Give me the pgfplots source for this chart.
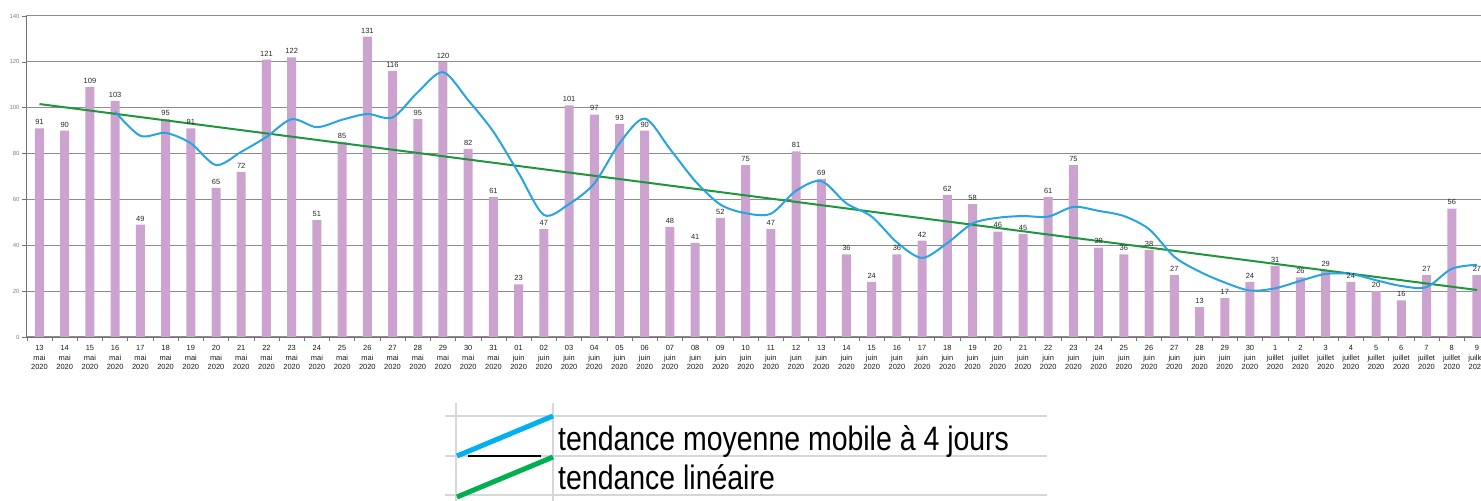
\documentclass[border=0pt]{standalone}
\usepackage{fontspec}
\setmainfont{Liberation Sans}
\usepackage{graphicx}
\usepackage{pgfplots}
\usepackage{pgfplotstable}
\pgfplotsset{compat=1.18}
\definecolor{barc}{RGB}{204,163,207}
\definecolor{mavg}{RGB}{40,165,225}
\definecolor{trend}{RGB}{30,150,60}
\definecolor{legblue}{RGB}{0,176,240}
\definecolor{leggreen}{RGB}{0,176,80}
\definecolor{gridc}{RGB}{140,140,140}
\definecolor{cellc}{RGB}{215,215,215}

\pgfplotstableread{
x y
0 91
1 90
2 109
3 103
4 49
5 95
6 91
7 65
8 72
9 121
10 122
11 51
12 85
13 131
14 116
15 95
16 120
17 82
18 61
19 23
20 47
21 101
22 97
23 93
24 90
25 48
26 41
27 52
28 75
29 47
30 81
31 69
32 36
33 24
34 36
35 42
36 62
37 58
38 46
39 45
40 61
41 75
42 39
43 36
44 38
45 27
46 13
47 17
48 24
49 31
50 26
51 29
52 24
53 20
54 16
55 27
56 56
57 27
}\bars

\pgfplotstableread{
x m
3 98.25
4 87.75
5 89
6 84.5
7 75
8 80.75
9 87.25
10 95
11 91.5
12 94.75
13 97.25
14 95.75
15 106.75
16 115.5
17 103.25
18 89.5
19 71.5
20 53.25
21 58
22 67
23 84.5
24 95.25
25 82
26 68
27 57.75
28 54
29 53.75
30 63.75
31 68
32 58.25
33 52.5
34 41.25
35 34.5
36 41
37 49.5
38 52
39 52.75
40 52.5
41 56.75
42 55
43 52.75
44 47
45 35
46 28.5
47 23.75
48 20.25
49 21.25
50 24.5
51 27.5
52 27.5
53 24.75
54 22.25
55 21.75
56 29.75
57 31.5
}\mavgtab

\begin{document}
\begin{tikzpicture}
\begin{axis}[
  at={(26bp,164bp)}, anchor=south west,
  scale only axis, width=1455bp, height=321bp,
  xmin=-0.535, xmax=57.16, ymin=0, ymax=140,
  axis x line=bottom, axis y line=left,
  axis line style={-, draw=black!55, line width=0.8bp},
  /pgf/number format/assume math mode=true,
  ytick={0,20,40,60,80,120,140},
  extra y ticks={100},
  extra y tick style={grid style={cellc, line width=1.2bp}},
  ymajorgrids,
  major grid style={gridc, line width=1bp},
  xtick={0,...,57},
  minor xtick={-0.5,0.5,...,57.5},
  minor ytick={0,20,...,140},
  major tick length=0bp,
  minor tick length=4bp,
  tick align=outside,
  tick style={draw=black!55, line width=0.6bp},
  xticklabels={
    {13\\mai\\2020},{14\\mai\\2020},{15\\mai\\2020},{16\\mai\\2020},{17\\mai\\2020},{18\\mai\\2020},{19\\mai\\2020},{20\\mai\\2020},{21\\mai\\2020},{22\\mai\\2020},{23\\mai\\2020},{24\\mai\\2020},{25\\mai\\2020},{26\\mai\\2020},{27\\mai\\2020},{28\\mai\\2020},{29\\mai\\2020},{30\\mai\\2020},{31\\mai\\2020},
    {01\\juin\\2020},{02\\juin\\2020},{03\\juin\\2020},{04\\juin\\2020},{05\\juin\\2020},{06\\juin\\2020},{07\\juin\\2020},{08\\juin\\2020},{09\\juin\\2020},{10\\juin\\2020},{11\\juin\\2020},{12\\juin\\2020},{13\\juin\\2020},{14\\juin\\2020},{15\\juin\\2020},{16\\juin\\2020},{17\\juin\\2020},{18\\juin\\2020},{19\\juin\\2020},{20\\juin\\2020},{21\\juin\\2020},{22\\juin\\2020},{23\\juin\\2020},{24\\juin\\2020},{25\\juin\\2020},{26\\juin\\2020},{27\\juin\\2020},{28\\juin\\2020},{29\\juin\\2020},{30\\juin\\2020},
    {1\\juillet\\2020},{2\\juillet\\2020},{3\\juillet\\2020},{4\\juillet\\2020},{5\\juillet\\2020},{6\\juillet\\2020},{7\\juillet\\2020},{8\\juillet\\2020},{9\\juillet\\2020}},
  xticklabel style={font=\fontsize{7.5}{9.5}\selectfont, align=center, text=black!90, yshift=-5bp},
  yticklabel style={font=\fontsize{6}{7}\selectfont, text=black!50, xshift=-3bp},
]
\addplot[ybar, bar width=9bp, bar shift=0pt, fill=barc, draw=none,
  nodes near coords,
  every node near coord/.append style={font=\fontsize{7.5}{8}\selectfont, text=black!85}]
  table[x=x,y=y]{\bars};
\addplot[trend, line width=2bp, no markers] coordinates {(0,101.6) (57,20.5)};
\addplot[mavg, line width=2bp, smooth, tension=0.5, no markers] table[x=x,y=m]{\mavgtab};
\end{axis}
\begin{scope}[x=1bp,y=1bp]
  \draw[cellc, line width=1.5bp] (445,85) -- (1047,85);
  \draw[cellc, line width=1.5bp] (445,45) -- (1047,45);
  \draw[cellc, line width=1.5bp] (445,6) -- (1047,6);
  \draw[cellc, line width=1.5bp] (456,98) -- (456,0);
  \draw[cellc, line width=1.5bp] (553,98) -- (553,0);
  \draw[legblue, line width=5bp] (457,45) -- (553,85);
  \draw[black, line width=1.2bp] (468,45) -- (541,45);
  \draw[leggreen, line width=5bp] (457,4) -- (553,44);
  \node[anchor=base west, inner sep=0] at (558,50) {\scalebox{0.84}[1]{\fontsize{34}{40}\selectfont tendance moyenne mobile à 4 jours}};
  \node[anchor=base west, inner sep=0] at (558,11) {\scalebox{0.84}[1]{\fontsize{34}{40}\selectfont tendance linéaire}};
  \pgfresetboundingbox
  \path (0,0) rectangle (1481,501);
\end{scope}
\end{tikzpicture}
\end{document}
